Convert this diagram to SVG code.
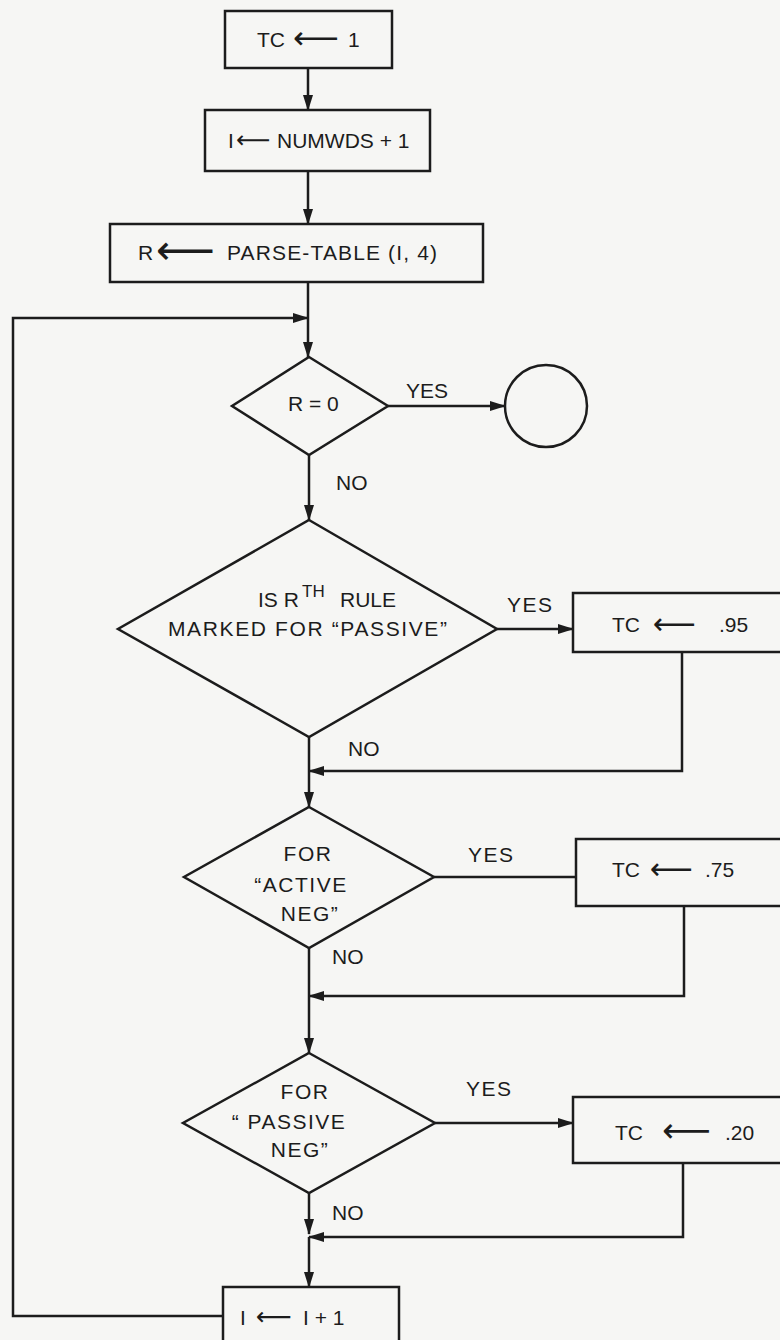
<svg xmlns="http://www.w3.org/2000/svg" width="780" height="1340" viewBox="0 0 780 1340">
<defs>
<style>
.bg{fill:#f6f6f4}
.shape{fill:none;stroke:#1c1c1c;stroke-width:2.5}
.line{fill:none;stroke:#1c1c1c;stroke-width:2.5}
.t{font-family:"Liberation Sans",Arial,sans-serif;font-size:21px;fill:#1c1c1c}
.ls{letter-spacing:1.5px}
.sup{font-size:17px}
.arr{font-family:"DejaVu Sans",sans-serif}
</style>
<marker id="ah" markerWidth="16" markerHeight="12" refX="15" refY="6" orient="auto" markerUnits="userSpaceOnUse">
<path d="M0,1 L16,6 L0,11 Z" fill="#1c1c1c"/>
</marker>
</defs>
<rect class="bg" x="0" y="0" width="780" height="1340"/>

<g id="connectors">
<path class="line" d="M308,68 V110" marker-end="url(#ah)"/>
<path class="line" d="M308,171 V224" marker-end="url(#ah)"/>
<path class="line" d="M308,282 V357" marker-end="url(#ah)"/>
<path class="line" d="M223,1316 H13 V318 H308" marker-end="url(#ah)"/>
<path class="line" d="M388,406 H505" marker-end="url(#ah)"/>
<path class="line" d="M309,455 V520" marker-end="url(#ah)"/>
<path class="line" d="M497,629 H573" marker-end="url(#ah)"/>
<path class="line" d="M682,652 V771 H309" marker-end="url(#ah)"/>
<path class="line" d="M309,737 V807" marker-end="url(#ah)"/>
<path class="line" d="M434,877 H576"/>
<path class="line" d="M684,906 V996 H309" marker-end="url(#ah)"/>
<path class="line" d="M309,948 V1053" marker-end="url(#ah)"/>
<path class="line" d="M435,1123 H573" marker-end="url(#ah)"/>
<path class="line" d="M683,1163 V1237 H309" marker-end="url(#ah)"/>
<path class="line" d="M309,1193 V1234" marker-end="url(#ah)"/>
<path class="line" d="M309,1237 V1287" marker-end="url(#ah)"/>
<text class="t" x="406" y="398">YES</text>
<text class="t" x="336" y="490">NO</text>
<text class="t ls" x="507" y="612">YES</text>
<text class="t" x="348" y="756">NO</text>
<text class="t ls" x="468" y="862">YES</text>
<text class="t" x="332" y="964">NO</text>
<text class="t ls" x="466" y="1096">YES</text>
<text class="t" x="332" y="1220">NO</text>
</g>

<g id="n_tc1">
<rect class="shape" x="225" y="11" width="167" height="57"/>
<text class="t" y="47"><tspan x="257">TC</tspan><tspan class="arr" x="293" dy="2" font-size="32">⟵</tspan><tspan x="348" dy="-2">1</tspan></text>
</g>

<g id="n_numwds">
<rect class="shape" x="205" y="110" width="225" height="61"/>
<text class="t" y="148"><tspan x="228">I</tspan><tspan class="arr" x="236" font-size="24">⟵</tspan><tspan x="277">NUMWDS + 1</tspan></text>
</g>

<g id="n_parse">
<rect class="shape" x="110" y="224" width="373" height="58"/>
<text class="t" y="260"><tspan x="138">R</tspan><tspan class="arr" x="156" dy="4" font-size="41">⟵</tspan><tspan x="227" dy="-4" textLength="210">PARSE-TABLE (I, 4)</tspan></text>
</g>

<g id="n_r0">
<path class="shape" d="M309,357 L388,406 L309,455 L232,406 Z"/>
<text class="t" x="288" y="411">R = 0</text>
</g>

<g id="n_end">
<circle class="shape" cx="546" cy="406" r="41"/>
</g>

<g id="n_passive">
<path class="shape" d="M309,520 L497,629 L309,737 L118,629 Z"/>
<text class="t" y="607"><tspan x="258">IS R</tspan><tspan class="sup" x="302" dy="-10">TH</tspan><tspan x="340" dy="10">RULE</tspan></text>
<text class="t" x="168" y="636" textLength="279" lengthAdjust="spacing">MARKED FOR “PASSIVE”</text>
</g>

<g id="n_tc95">
<rect class="shape" x="573" y="593" width="230" height="59"/>
<text class="t" y="632"><tspan x="612">TC</tspan><tspan class="arr" x="653" dy="1.5" font-size="30">⟵</tspan><tspan x="719" dy="-1.5">.95</tspan></text>
</g>

<g id="n_active">
<path class="shape" d="M309,807 L434,877 L309,948 L184,877 Z"/>
<text class="t ls" text-anchor="middle"><tspan x="308" y="861">FOR</tspan><tspan x="301" y="892">“ACTIVE</tspan><tspan x="310" y="921">NEG”</tspan></text>
</g>

<g id="n_tc75">
<rect class="shape" x="576" y="839" width="230" height="67"/>
<text class="t" y="877"><tspan x="612">TC</tspan><tspan class="arr" x="650" dy="1.5" font-size="30">⟵</tspan><tspan x="705" dy="-1.5">.75</tspan></text>
</g>

<g id="n_passneg">
<path class="shape" d="M309,1053 L435,1123 L309,1193 L183,1123 Z"/>
<text class="t ls" text-anchor="middle"><tspan x="305" y="1099">FOR</tspan><tspan x="289" y="1129">“ PASSIVE</tspan><tspan x="300" y="1157">NEG”</tspan></text>
</g>

<g id="n_tc20">
<rect class="shape" x="573" y="1097" width="230" height="66"/>
<text class="t" y="1140"><tspan x="615">TC</tspan><tspan class="arr" x="662" dy="2" font-size="34">⟵</tspan><tspan x="725" dy="-2">.20</tspan></text>
</g>

<g id="n_inc">
<rect class="shape" x="223" y="1287" width="176" height="60"/>
<text class="t" y="1325"><tspan x="240">I</tspan><tspan class="arr" x="256" font-size="25">⟵</tspan><tspan x="303">I + 1</tspan></text>
</g>
</svg>
